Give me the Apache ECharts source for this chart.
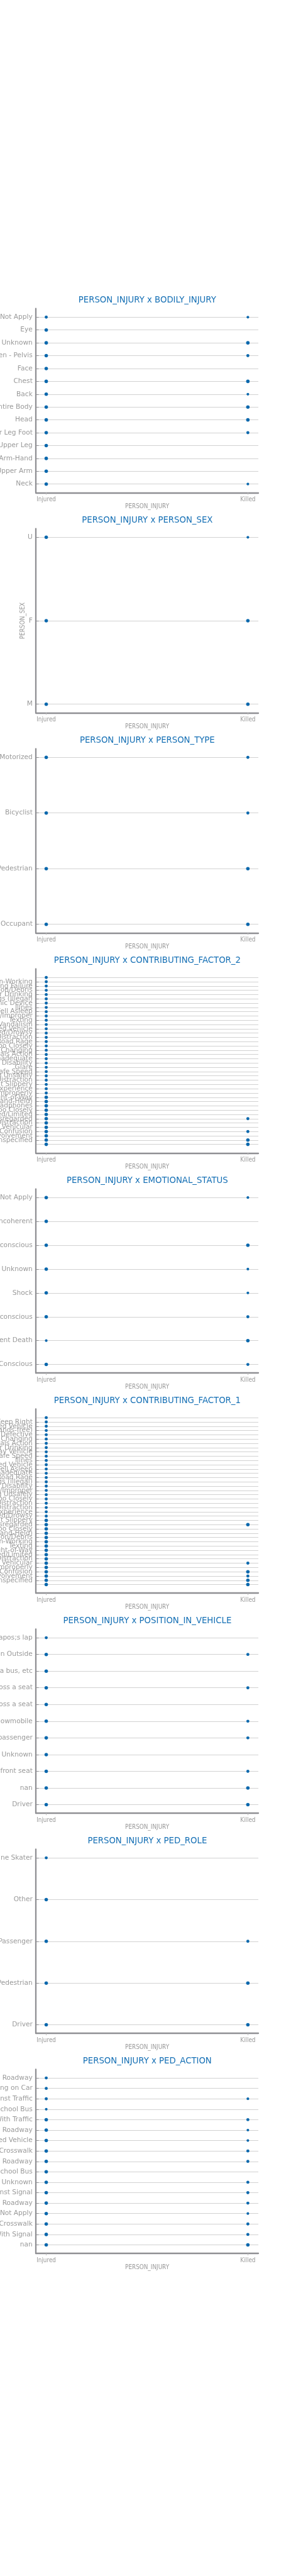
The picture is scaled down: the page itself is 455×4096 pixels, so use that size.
<!DOCTYPE html>
<html><head><meta charset="utf-8">
<script src="https://cdn.jsdelivr.net/npm/echarts@6/dist/echarts.min.js"></script>
<style>html,body{margin:0;padding:0;background:#fff}#c{width:455px;height:4096px}</style>
</head><body><div id="c"></div>
<script>
// ---------- data ----------
const xCats = ['Injured', 'Killed'];
const xName = 'PERSON_INJURY';

const bodilyCats = ['Does Not Apply','Eye','Unknown','Abdomen - Pelvis','Face','Chest','Back','Entire Body','Head','Knee-Lower Leg Foot','Hip-Upper Leg','Elbow-Lower-Arm-Hand','Shoulder - Upper Arm','Neck'];
const bodilyInjured = [2,3,3,3,3,3,3,3,3,3,3,3,3,3];
const bodilyKilled  = [1,0,3,2,0,3,1,3,3,2,0,0,0,1];

const sexCats = ['U','F','M'];
const sexInjured = [3,3,3];
const sexKilled  = [1,3,3];

const typeCats = ['Other Motorized','Bicyclist','Pedestrian','Occupant'];
const typeInjured = [3,3,3,3];
const typeKilled  = [2,2,3,3];

const cf2Cats = ['Failure to Keep Right','Traffic Control Device Improper/Non-Working','Steering Failure','Obstruction/Debris','Eating or Drinking','Drugs (Illegal)','Other Electronic Device','Illnes','Fell Asleep','Shoulders Defective/Improper','Texting','Vandalism','Reaction to Uninvolved Vehicle','Fatigued/Drowsy','Outside Car Distraction','Aggressive Driving/Road Rage','Following Too Closely','Unsafe Lane Changing','Animals Action','Lane Marking Improper/Inadequate','Physical Disability','Glare','Unsafe Speed','Backing Unsafely','Passenger Distraction','Pavement Slippery','Driver Inexperience','Turning Improperly','Failure to Yield Right-of-Way','Cell Phone (hand-Held)','Listening/Using Headphones','Passing Too Closely','View Obstructed/Limited','Traffic Control Disregarded','Driver Inattention/Distraction','Other Vehicular','Pedestrian/Bicyclist/Other Pedestrian Error/Confusion','Alcohol Involvement','Unspecified','nan'];
const cf2Injured = [2,2,2,2,2,2,2,2,2,2,2,2,2,2,2,2,2,2,2,2,2,2,2,2,2,2,2,2,3,3,3,3,3,3,3,3,3,3,3,3];
const cf2Killed  = [0,0,0,0,0,0,0,0,0,0,0,0,0,0,0,0,0,0,0,0,0,0,0,0,0,0,0,0,0,0,0,0,0,2,0,0,2,0,3,3];

const emoCats = ['Does Not Apply','Incoherent','Semiconscious','Unknown','Shock','Unconscious','Apparent Death','Conscious'];
const emoInjured = [3,3,3,3,3,3,1,3];
const emoKilled  = [1,0,3,1,1,2,3,2];

const cf1Cats = ['Listening/Using Headphones','Failure to Keep Right','Oversized Vehicle','Cell Phone (hands-free)','Brakes Defective','Unsafe Lane Changing','Animals Action','Eating or Drinking','Driverless/Runaway Vehicle','Unsafe Speed','Illnes','Reaction to Uninvolved Vehicle','Fell Asleep','Lane Marking Improper/Inadequate','Aggressive Driving/Road Rage','Drugs (illegal)','Physical Disability','Shoulders Defective/Improper','Backing Unsafely','Following Too Closely','Outside Car Distraction','Passenger Distraction','Driver Inexperience','Fatigued/Drowsy','Pavement Slippery','Traffic Control Disregarded','Passing Too Closely','Cell Phone (hand-Held)','Obstruction/Debris','Traffic Control Device Improper/Non-Working','Texting','Failure to Yield Right-of-Way','View Obstructed/Limited','Driver Inattention/Distraction','Other Vehicular','Turning Improperly','Pedestrian/Bicyclist/Other Pedestrian Error/Confusion','Alcohol Involvement','Unspecified','nan'];
const cf1Injured = [2,2,2,2,2,2,2,2,2,2,2,2,2,2,2,2,2,2,2,2,2,2,2,2,3,3,3,3,3,3,3,3,3,3,3,3,3,3,3,3];
const cf1Killed  = [0,0,0,0,0,0,0,0,0,0,0,0,0,0,0,0,0,0,0,0,0,0,0,0,0,3,0,0,0,0,0,0,0,0,2,0,3,2,3,3];

const posCats = ['If one person is seated on another person&apos;s lap','Riding/Hanging on Outside','Any person in the rear of a station wagon, pick-up truck, all passengers on a bus, etc','Middle rear seat, or passenger lying across a seat','Middle front seat, or passenger lying across a seat','Left rear passenger, or rear passenger on a bicycle, motorcycle, snowmobile','Right rear passenger or motorcycle sidecar passenger','Unknown','Front passenger, if two or more persons, including the driver, are in the front seat','nan','Driver'];
const posInjured = [2,3,3,3,3,3,3,3,3,3,3];
const posKilled  = [0,2,0,2,0,2,2,0,2,3,3];

const roleCats = ['In-Line Skater','Other','Passenger','Pedestrian','Driver'];
const roleInjured = [2,3,3,3,3];
const roleKilled  = [0,0,2,3,3];

const actionCats = ['Playing in Roadway','Riding/Hanging on Car','Along Highway Against Traffic','Getting On/Off Vehicle Other Than School Bus','Along Highway With Traffic','Working in Roadway','Emerging from in Front of/Behind Parked Vehicle','Crossing, No Signal, Marked Crosswalk','Other Actions in Roadway','Going to/From Stopped School Bus','Unknown','Crossing Against Signal','Not in Roadway','Does Not Apply','Crossing, No Signal, or Crosswalk','Crossing With Signal','nan'];
const actionInjured = [2,2,2,1,3,3,3,3,3,3,3,3,3,3,3,3,3];
const actionKilled  = [0,0,1,0,2,1,1,2,2,0,2,2,2,1,2,2,3];

const panels = [
  {title: 'PERSON_INJURY x BODILY_INJURY', cats: bodilyCats, inj: bodilyInjured, kil: bodilyKilled, yName: ''},
  {title: 'PERSON_INJURY x PERSON_SEX', cats: sexCats, inj: sexInjured, kil: sexKilled, yName: 'PERSON_SEX'},
  {title: 'PERSON_INJURY x PERSON_TYPE', cats: typeCats, inj: typeInjured, kil: typeKilled, yName: ''},
  {title: 'PERSON_INJURY x CONTRIBUTING_FACTOR_2', cats: cf2Cats, inj: cf2Injured, kil: cf2Killed, yName: ''},
  {title: 'PERSON_INJURY x EMOTIONAL_STATUS', cats: emoCats, inj: emoInjured, kil: emoKilled, yName: ''},
  {title: 'PERSON_INJURY x CONTRIBUTING_FACTOR_1', cats: cf1Cats, inj: cf1Injured, kil: cf1Killed, yName: ''},
  {title: 'PERSON_INJURY x POSITION_IN_VEHICLE', cats: posCats, inj: posInjured, kil: posKilled, yName: ''},
  {title: 'PERSON_INJURY x PED_ROLE', cats: roleCats, inj: roleInjured, kil: roleKilled, yName: ''},
  {title: 'PERSON_INJURY x PED_ACTION', cats: actionCats, inj: actionInjured, kil: actionKilled, yName: ''}
];

// ---------- layout / style ----------
const S = 455 / 600;
const DOT = '#0a68ad';
const TITLE_C = '#1670b5';
const AXIS_C = '#8f8f93';
const LABEL_C = '#9a9a9a';
const GRID_C = '#d2d2d2';
const sizePx = [0, 5.6, 6.4, 7.3];
const firstTitleY = 630, panelStep = 461.5;
const plotLeft = 75.3, plotW = 466.7, plotH = 386, titleToPlot = 17;
const ptInsetY = 18, xInjured = 97, xKilled = 520;

const chart = echarts.init(document.getElementById('c'), null, {renderer: 'canvas'});
const option = {
  animation: false,
  backgroundColor: '#ffffff',
  title: [], grid: [], xAxis: [], yAxis: [], series: []
};

const xUnit = xKilled - xInjured;
const xMin = -(xInjured - plotLeft) / xUnit;
const xMax = 1 + (plotLeft + plotW - xKilled) / xUnit;

panels.forEach((p, k) => {
  const ty = firstTitleY + panelStep * k;
  const n = p.cats.length;
  const step = (plotH - 2 * ptInsetY) / Math.max(n - 1, 1);
  const padU = ptInsetY / step;
  option.title.push({
    text: p.title, left: 309 * S, top: ty * S, padding: 0,
    textAlign: 'center', textVerticalAlign: 'middle',
    textStyle: {color: TITLE_C, fontSize: 17.5 * S, fontWeight: 'normal', fontFamily: 'DejaVu Sans'}
  });
  option.grid.push({
    left: plotLeft * S, top: (ty + titleToPlot) * S, width: plotW * S, height: plotH * S,
    containLabel: false, outerBoundsMode: 'none'
  });
  const xCustom = xCats.map((c, i) => i);
  option.xAxis.push({
    type: 'value', gridIndex: k, min: xMin, max: xMax,
    name: xName, nameLocation: 'middle', nameGap: 23 * S, nameMoveOverlap: false,
    nameTextStyle: {color: LABEL_C, fontSize: 13 * S, fontFamily: 'DejaVu Sans Condensed, DejaVu Sans'},
    axisLine: {show: true, onZero: false, lineStyle: {color: AXIS_C, width: 3 * S}},
    axisTick: {show: true, inside: false, length: 4 * S, customValues: xCustom, lineStyle: {color: '#bbbbbb', width: 1}},
    axisLabel: {show: true, margin: 8 * S, customValues: xCustom, color: LABEL_C, fontSize: 13 * S,
      fontFamily: 'DejaVu Sans Condensed, DejaVu Sans', formatter: v => xCats[Math.round(v)]},
    splitLine: {show: false}
  });
  const yCustom = p.cats.map((c, i) => i);
  const yAx = {
    type: 'value', gridIndex: k, inverse: true, min: -padU, max: n - 1 + padU,
    axisLine: {show: true, onZero: false, lineStyle: {color: AXIS_C, width: 3 * S}},
    axisTick: {show: true, inside: true, length: 6 * S, customValues: yCustom, lineStyle: {color: AXIS_C, width: 1}},
    axisLabel: {show: true, margin: 7 * S, customValues: yCustom, color: LABEL_C, fontSize: 14 * S,
      fontFamily: 'DejaVu Sans', formatter: v => p.cats[Math.round(v)]},
    splitLine: {show: true, lineStyle: {color: GRID_C, width: 1.6 * S}}
  };
  if (p.yName) {
    Object.assign(yAx, {
      name: p.yName, nameLocation: 'middle', nameGap: 20.8 * S, nameMoveOverlap: false,
      nameTextStyle: {color: LABEL_C, fontSize: 13 * S, fontFamily: 'DejaVu Sans Condensed, DejaVu Sans'}
    });
  }
  option.yAxis.push(yAx);
  const data = [];
  p.cats.forEach((c, i) => {
    if (p.inj[i] > 0) data.push([0, i, p.inj[i]]);
    if (p.kil[i] > 0) data.push([1, i, p.kil[i]]);
  });
  option.series.push({
    type: 'scatter', xAxisIndex: k, yAxisIndex: k, data: data,
    symbol: 'circle', symbolSize: v => sizePx[v[2]] * S,
    itemStyle: {color: DOT, opacity: 1}, silent: true, clip: false
  });
});

chart.setOption(option);
</script>
</body></html>
